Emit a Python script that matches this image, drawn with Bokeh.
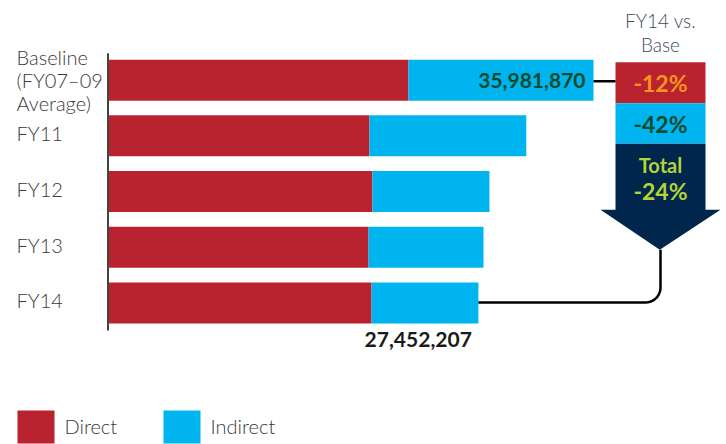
from bokeh.plotting import figure
from bokeh.models import Range1d, ColumnDataSource
from bokeh.core.properties import value
from bokeh.embed import file_html
from bokeh.resources import INLINE
import math

# ---- data ----
categories = ["Baseline\n(FY07\u201309\nAverage)", "FY11", "FY12", "FY13", "FY14"]
direct = [22270000, 19380000, 19600000, 19310000, 19530000]
indirect = [13711870, 11620000, 8670000, 8520000, 7922207]
baseline_total_label = "35,981,870"
fy14_total_label = "27,452,207"
change_direct = "-12%"
change_indirect = "-42%"
change_total = "-24%"
series_names = ["Direct", "Indirect"]

RED = "#b8232f"
CYAN = "#00b5ef"
NAVY = "#00264d"
ORANGE = "#f7941d"
DGREEN = "#0b4a2b"
LIME = "#b5d334"
LIGHT = value("Lato Light, Lato")

W, H = 726, 444
K = (direct[0] + indirect[0]) / 485.5   # value units per pixel
AX = 107.5                               # pixel x of the zero axis
Y0, P = 79.65, 55.7                      # pixel y of first bar centre, bar pitch

def px(x):
    return (x - AX) * K

def py(y):
    return -(y - Y0) / P

p = figure(width=W, height=H, output_backend="svg", toolbar_location=None,
           x_range=Range1d(px(0), px(W)), y_range=Range1d(py(H), py(0)),
           min_border=0, outline_line_color=None)
p.axis.visible = False
p.grid.visible = False
p.background_fill_color = "white"
p.border_fill_color = "white"

n = len(categories)
ys = [-i for i in range(n)]
totals = [d + i for d, i in zip(direct, indirect)]
src = ColumnDataSource(dict(y=ys, direct=direct, total=totals, cat=categories))
bh = 41 / P
p.hbar(y="y", left=0, right="direct", height=bh, color=RED, line_color=None, source=src)
p.hbar(y="y", left="direct", right="total", height=bh, color=CYAN, line_color=None, source=src)

# axis line
p.segment(x0=[0], y0=[py(52.7)], x1=[0], y1=[py(330)], line_color="#444444", line_width=2)

# category labels (single-line ones nudged up slightly)
label_y = [y if "\n" in c else y + 2.5 / P for y, c in zip(ys, categories)]
p.text(x=[px(16)] * n, y=label_y, text=categories, text_font=LIGHT,
       text_font_size="20px", text_color="#3a3a3a", text_baseline="middle",
       text_align="left", text_line_height=0.95)

# total labels
p.text(x=[px(585)], y=[ys[0]], text=[baseline_total_label], text_font=value("Lato"),
       text_font_style="bold", text_font_size="21px", text_color=DGREEN,
       text_baseline="middle", text_align="right")
p.text(x=[px(417.7)], y=[py(338.5)], text=[fy14_total_label], text_font=value("Lato"),
       text_font_style="bold", text_font_size="21px", text_color="#1a1a1a",
       text_baseline="middle", text_align="center")

# change box
bx0, bx1 = px(615), px(705)
p.quad(left=[bx0], right=[bx1], top=[py(61.7)], bottom=[py(102.7)], color=RED, line_color=None)
p.quad(left=[bx0], right=[bx1], top=[py(102.7)], bottom=[py(143.3)], color=CYAN, line_color=None)
p.patch(x=[bx0, bx1, bx1, px(720), px(659.3), px(600), bx0],
        y=[py(143.3), py(143.3), py(209.3), py(209.3), py(249.3), py(209.3), py(209.3)],
        color=NAVY, line_color=None)
cx = px(660)
p.text(x=[cx], y=[py(82.5)], text=[change_direct], text_font=value("Lato"), text_font_style="bold",
       text_font_size="23px", text_color=ORANGE, text_baseline="middle", text_align="center")
p.text(x=[cx], y=[py(123.5)], text=[change_indirect], text_font=value("Lato"), text_font_style="bold",
       text_font_size="23px", text_color=DGREEN, text_baseline="middle", text_align="center")
p.text(x=[cx], y=[py(164.5)], text=["Total"], text_font=value("Lato"), text_font_style="bold",
       text_font_size="20px", text_color=LIME, text_baseline="middle", text_align="center")
p.text(x=[cx], y=[py(190.5)], text=[change_total], text_font=value("Lato"), text_font_style="bold",
       text_font_size="23px", text_color=LIME, text_baseline="middle", text_align="center")
p.text(x=[cx, cx], y=[py(20), py(44)], text=["FY14 vs.", "Base"], text_font=LIGHT,
       text_font_size="19px", text_color="#3d4b60", text_baseline="middle", text_align="center")

# connectors
p.line(x=[totals[0], bx0], y=[py(80.7)] * 2, line_color="black", line_width=2.5)
r = 15
xs_c, ys_c = [totals[-1]], [py(302)]
for k in range(0, 11):
    a = math.pi / 2 * k / 10
    xs_c.append(px(660 - r + r * math.sin(a)))
    ys_c.append(py(302 - r + r * math.cos(a)))
xs_c.append(px(660)); ys_c.append(py(249.3))
p.line(x=xs_c, y=ys_c, line_color="black", line_width=2.5)

# legend
p.quad(left=[px(17), px(163)], right=[px(54), px(200)], top=[py(410)] * 2, bottom=[py(443)] * 2,
       color=[RED, CYAN], line_color=None)
p.text(x=[px(64), px(210)], y=[py(425)] * 2, text=series_names, text_font=LIGHT,
       text_font_size="20px", text_color="#3a3a3a", text_baseline="middle", text_align="left")

open("out.html", "w").write(file_html(p, INLINE))
